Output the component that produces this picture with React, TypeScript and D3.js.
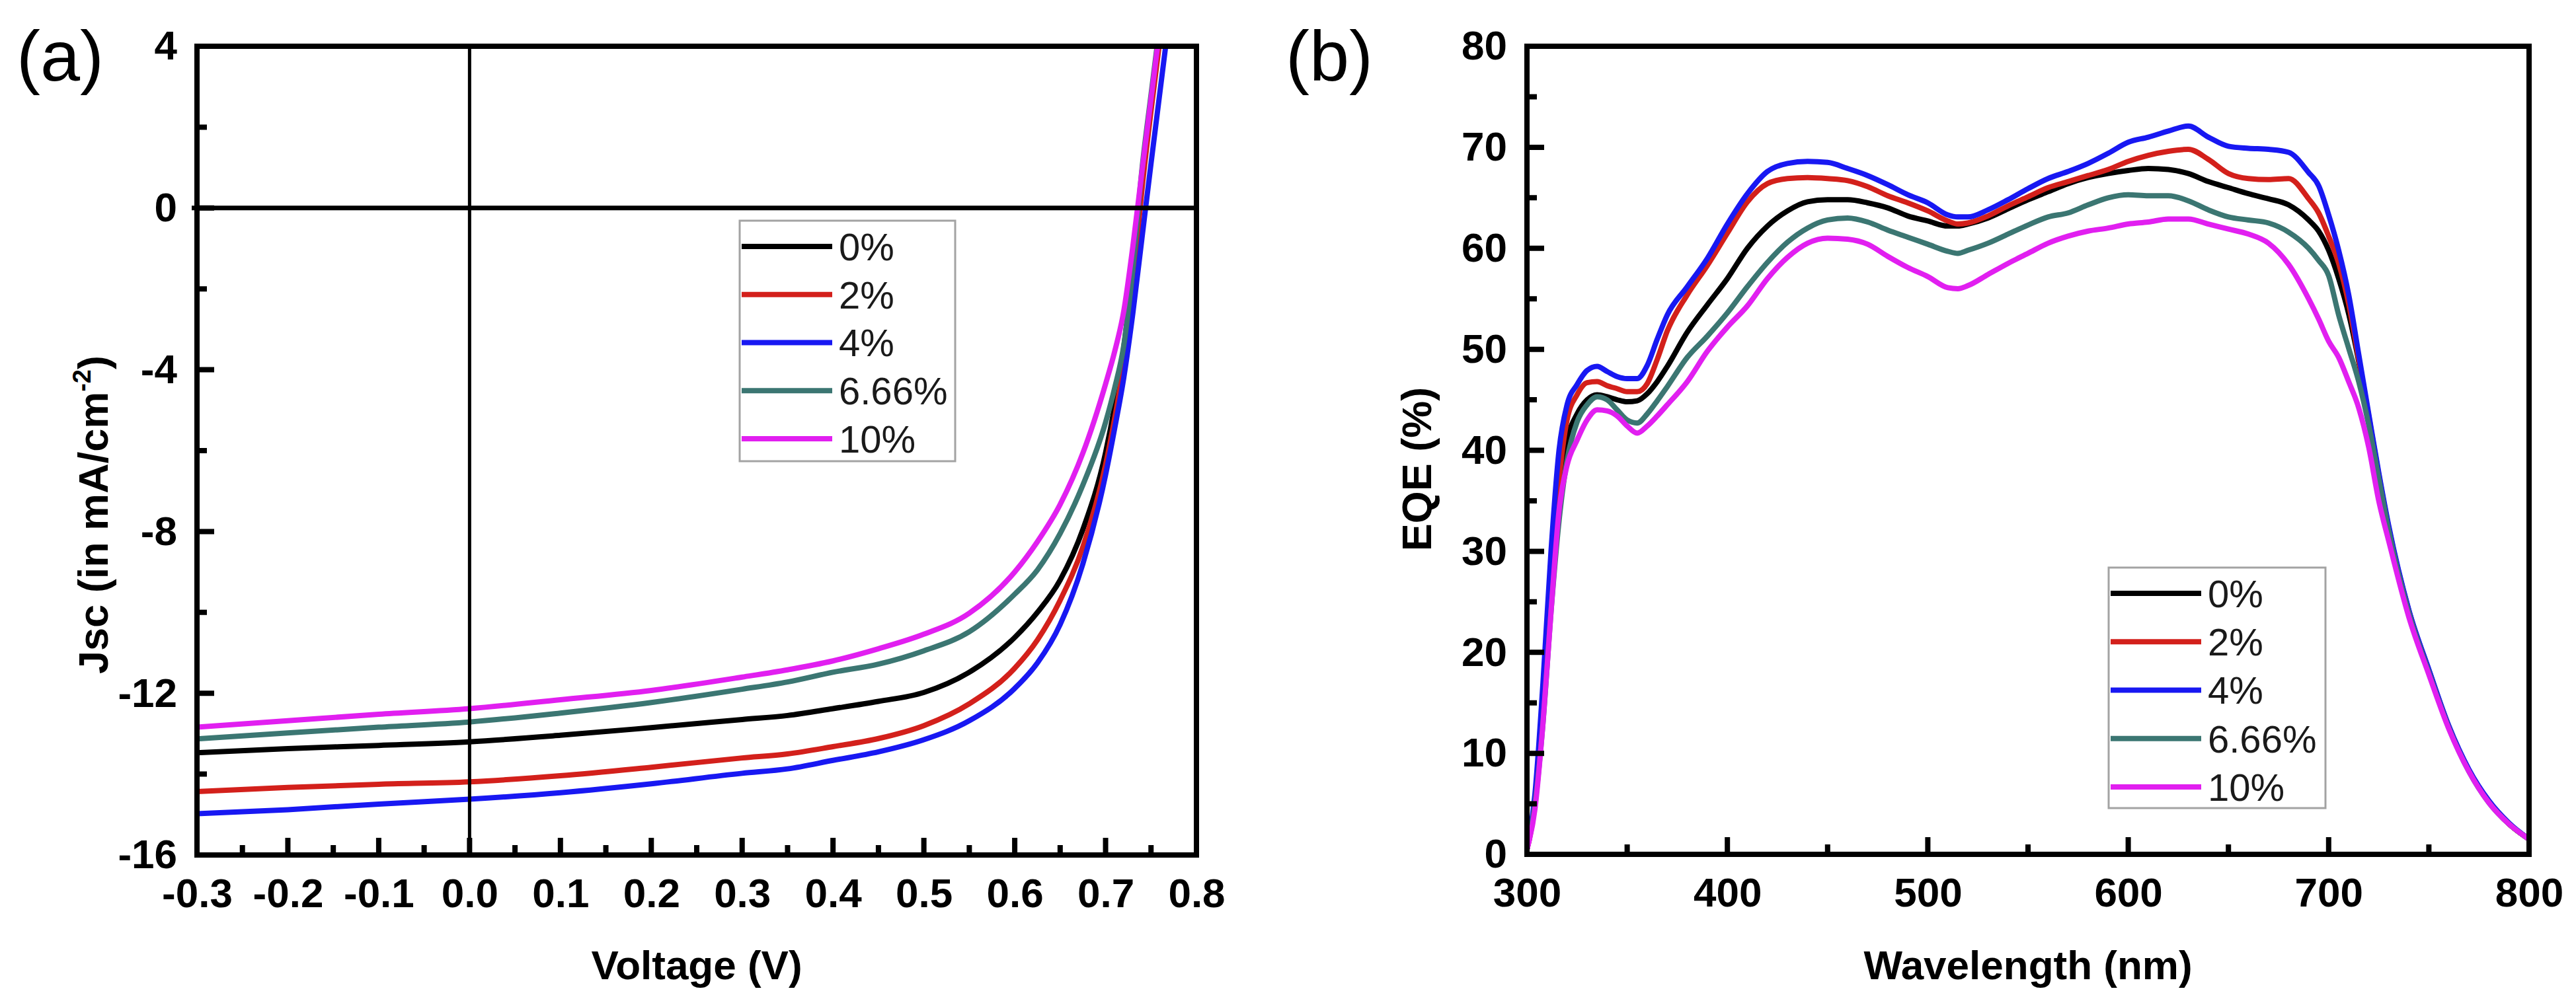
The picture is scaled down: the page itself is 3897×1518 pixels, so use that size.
import React, { useEffect, useRef } from 'react';
import * as d3 from 'd3';

// legend / series
const seriesLabels = ['0%', '2%', '4%', '6.66%', '10%'];
const seriesColors = ['#000000', '#d3201b', '#1818f2', '#3b7672', '#e11ff0'];

// (a) J-V curves
const voltage = [-0.3, -0.2, -0.1, 0, 0.1, 0.2, 0.3, 0.35, 0.4, 0.45, 0.5, 0.55, 0.6, 0.625, 0.65, 0.675, 0.7, 0.71, 0.72, 0.73, 0.74, 0.75, 0.76, 0.77, 0.78];
const jsc0 = [-13.47, -13.37, -13.29, -13.2, -13.04, -12.85, -12.65, -12.55, -12.38, -12.2, -11.98, -11.48, -10.62, -10.0, -9.2, -7.95, -6.05, -4.9, -3.45, -1.55, 0.7, 2.55, 4.35, 6.2, 8.0];
const jsc2 = [-14.43, -14.33, -14.25, -14.19, -14.04, -13.83, -13.6, -13.5, -13.32, -13.12, -12.8, -12.26, -11.38, -10.68, -9.7, -8.38, -6.35, -5.2, -3.85, -1.95, 0.45, 2.4, 4.2, 6.0, 7.8];
const jsc4 = [-14.98, -14.88, -14.74, -14.62, -14.46, -14.24, -13.98, -13.87, -13.66, -13.45, -13.15, -12.68, -11.88, -11.25, -10.3, -8.8, -6.6, -5.45, -4.2, -2.6, -0.75, 1.1, 2.9, 4.7, 6.5];
const jsc666 = [-13.13, -12.98, -12.84, -12.71, -12.49, -12.23, -11.9, -11.72, -11.48, -11.28, -10.95, -10.48, -9.55, -8.95, -8.05, -6.85, -5.3, -4.45, -3.4, -1.5, 0.95, 2.8, 4.6, 6.4, 8.2];
const jsc10 = [-12.84, -12.68, -12.52, -12.38, -12.16, -11.93, -11.6, -11.42, -11.2, -10.9, -10.54, -10.02, -9.0, -8.25, -7.33, -6.06, -4.35, -3.55, -2.55, -0.95, 0.9, 2.7, 4.5, 6.3, 8.1];
const jvSeries = [jsc0, jsc2, jsc4, jsc666, jsc10];

const voltageTicks = [-0.3, -0.2, -0.1, 0, 0.1, 0.2, 0.3, 0.4, 0.5, 0.6, 0.7, 0.8];
const voltageTickLabels = ['-0.3', '-0.2', '-0.1', '0.0', '0.1', '0.2', '0.3', '0.4', '0.5', '0.6', '0.7', '0.8'];
const jscTicks = [4, 0, -4, -8, -12, -16];
const jscTickLabels = ['4', '0', '-4', '-8', '-12', '-16'];

// (b) EQE spectra
const wavelength = [300, 304, 308, 312, 316, 320, 325, 330, 335, 340, 345, 350, 355, 360, 365, 370, 380, 390, 400, 410, 420, 430, 440, 450, 460, 470, 480, 490, 500, 510, 515, 520, 530, 540, 550, 560, 570, 580, 590, 600, 610, 620, 630, 640, 650, 660, 670, 680, 690, 695, 700, 705, 710, 715, 720, 725, 730, 740, 750, 760, 770, 780, 790, 800];
const eqe0 = [0.5, 5, 14, 26, 36, 41.0, 43.6, 45.0, 45.5, 45.3, 45.0, 44.8, 44.9, 45.6, 46.8, 48.3, 51.7, 54.4, 57.0, 60.0, 62.2, 63.7, 64.6, 64.8, 64.8, 64.5, 64.0, 63.2, 62.7, 62.2, 62.2, 62.4, 63.0, 63.9, 64.8, 65.6, 66.4, 67.0, 67.4, 67.7, 67.9, 67.8, 67.4, 66.6, 66.0, 65.4, 64.9, 64.3, 62.8, 61.7, 59.8, 57.0, 53.5, 48.8, 43.3, 37.5, 32.3, 24.1, 18.2, 12.6, 8.3, 5.2, 3.0, 1.5];
const eqe2 = [0.5, 5, 15, 27, 37, 43.0, 45.5, 46.7, 46.8, 46.4, 46.1, 45.8, 45.8, 46.6, 49.0, 51.8, 55.4, 58.3, 61.5, 64.6, 66.4, 66.9, 67.0, 66.9, 66.7, 66.1, 65.2, 64.5, 63.7, 62.7, 62.4, 62.5, 63.2, 64.2, 65.1, 66.0, 66.6, 67.2, 67.8, 68.6, 69.2, 69.6, 69.8, 68.8, 67.4, 66.9, 66.8, 66.9, 64.9, 63.5, 61.2, 58.5, 54.5, 49.0, 43.4, 37.6, 32.3, 24.1, 18.2, 12.6, 8.3, 5.2, 3.0, 1.5];
const eqe4 = [0.5, 6, 17, 30, 40, 44.5, 46.5, 47.9, 48.3, 47.8, 47.3, 47.1, 47.1, 48.4, 51.0, 53.4, 56.2, 59.0, 62.4, 65.4, 67.6, 68.4, 68.6, 68.5, 67.9, 67.2, 66.3, 65.3, 64.5, 63.3, 63.1, 63.1, 63.8, 64.8, 65.9, 66.9, 67.6, 68.4, 69.4, 70.5, 71.0, 71.6, 72.1, 71.0, 70.1, 69.9, 69.8, 69.5, 67.5, 66.2, 63.3, 59.8, 55.4, 49.5, 43.6, 37.8, 32.5, 24.2, 18.3, 12.7, 8.4, 5.3, 3.1, 1.5];
const eqe666 = [0.5, 5, 13, 24, 33, 39.0, 42.8, 44.5, 45.3, 45.0, 44.0, 43.0, 42.7, 43.6, 44.9, 46.3, 49.2, 51.3, 53.6, 56.2, 58.6, 60.6, 62.0, 62.8, 63.0, 62.6, 61.8, 61.1, 60.4, 59.7, 59.5, 59.8, 60.5, 61.4, 62.3, 63.1, 63.5, 64.3, 65.0, 65.3, 65.2, 65.2, 64.7, 63.8, 63.1, 62.8, 62.5, 61.6, 60.0, 58.8, 57.3, 53.4, 50.1, 46.8, 42.5, 37.2, 32.0, 23.9, 18.0, 12.5, 8.2, 5.1, 3.0, 1.5];
const eqe10 = [0.5, 4.5, 13, 24, 34, 38.5, 41.0, 43.0, 44.0, 43.9, 43.4, 42.4, 41.7, 42.4, 43.4, 44.5, 46.8, 49.8, 52.2, 54.3, 57.0, 59.1, 60.5, 61.0, 60.9, 60.4, 59.2, 58.1, 57.2, 56.1, 56.0, 56.3, 57.4, 58.5, 59.5, 60.5, 61.2, 61.7, 62.0, 62.4, 62.6, 62.9, 62.9, 62.4, 61.9, 61.4, 60.5, 58.4, 55.0, 53.0, 50.8, 49.2, 46.8, 44.2, 40.3, 35.0, 31.0, 23.5, 17.8, 12.4, 8.2, 5.1, 3.0, 1.5];
const eqeSeries = [eqe0, eqe2, eqe4, eqe666, eqe10];

const wavelengthTicks = [300, 400, 500, 600, 700, 800];
const eqeTicks = [0, 10, 20, 30, 40, 50, 60, 70, 80];

const FONT = "'Liberation Sans', Arial, Helvetica, sans-serif";

export default function App() {
  const chartRef = useRef<SVGSVGElement>(null);

  useEffect(() => {
    if (!chartRef.current) return;
    const svg = d3.select(chartRef.current);
    svg.selectAll('*').remove();

    svg.append('rect').attr('width', 3897).attr('height', 1518).attr('fill', '#ffffff');
    const defs = svg.append('defs');

    const midpoints = (arr: number[]) => d3.pairs(arr).map(([a, b]) => (a + b) / 2);

    const drawPanel = (opts: any) => {
      const { id, x, y, xs, series, xTicks, xFormat, yTicks, yFormat } = opts;
      const [left, right] = x.range();
      const [bottom, top] = y.range();

      defs.append('clipPath').attr('id', id)
        .append('rect')
        .attr('x', left).attr('y', top)
        .attr('width', right - left).attr('height', bottom - top);

      // tick labels through d3 axes
      const gx = svg.append('g')
        .attr('transform', `translate(0,${bottom})`)
        .call(d3.axisBottom(x).tickValues(xTicks).tickSize(0).tickPadding(35).tickFormat(xFormat));
      const gy = svg.append('g')
        .attr('transform', `translate(${left},0)`)
        .call(d3.axisLeft(y).tickValues(yTicks).tickSize(0).tickPadding(30).tickFormat(yFormat));
      [gx, gy].forEach((g) => {
        g.select('.domain').remove();
        g.selectAll('.tick line').remove();
        g.selectAll('text')
          .attr('font-size', 62)
          .attr('font-weight', 'bold')
          .attr('font-family', FONT)
          .attr('fill', '#000');
      });

      const line = d3.line<number>()
        .x((_, i) => x(xs[i]))
        .y((d) => y(d))
        .curve(d3.curveMonotoneX);

      const curves = svg.append('g').attr('clip-path', `url(#${id})`);

      // inward tick marks (major + minor) as one path each
      const tickPath = (len: number, xv: number[], yv: number[]) => {
        const p = d3.path();
        xv.forEach((v) => { p.moveTo(x(v), bottom); p.lineTo(x(v), bottom - len); });
        yv.forEach((v) => { p.moveTo(left, y(v)); p.lineTo(left + len, y(v)); });
        return p.toString();
      };
      const drawTicks = () => {
        svg.append('path')
          .attr('d', tickPath(26, xTicks, yTicks))
          .attr('fill', 'none').attr('stroke', '#000').attr('stroke-width', 8);
        svg.append('path')
          .attr('d', tickPath(15, midpoints(xTicks), midpoints(yTicks)))
          .attr('fill', 'none').attr('stroke', '#000').attr('stroke-width', 8);
      };
      return { curves, line, left, right, top, bottom, series, drawTicks };
    };

    const drawCurves = (p: any) => {
      p.series.forEach((s: number[], i: number) => {
        p.curves.append('path')
          .datum(s)
          .attr('d', p.line)
          .attr('fill', 'none')
          .attr('stroke', seriesColors[i])
          .attr('stroke-width', 8)
          .attr('stroke-linejoin', 'round');
      });
    };

    const drawFrame = (p: any) => {
      svg.append('rect')
        .attr('x', p.left).attr('y', p.top)
        .attr('width', p.right - p.left).attr('height', p.bottom - p.top)
        .attr('fill', 'none')
        .attr('stroke', '#000')
        .attr('stroke-width', 8);
      p.drawTicks();
    };

    const drawLegend = (bx: number, by: number, bw: number, bh: number, rowGap: number) => {
      const g = svg.append('g');
      g.append('rect')
        .attr('x', bx).attr('y', by).attr('width', bw).attr('height', bh)
        .attr('fill', '#ffffff')
        .attr('stroke', '#a3a3a3')
        .attr('stroke-width', 3);
      seriesLabels.forEach((label, i) => {
        const cy = by + 39 + i * rowGap;
        g.append('line')
          .attr('x1', bx + 3).attr('x2', bx + 140)
          .attr('y1', cy).attr('y2', cy)
          .attr('stroke', seriesColors[i])
          .attr('stroke-width', 8);
        g.append('text')
          .attr('x', bx + 150).attr('y', cy)
          .attr('dy', '0.36em')
          .attr('font-size', 58)
          .attr('font-family', FONT)
          .attr('fill', '#1a1a1a')
          .text(label);
      });
    };

    // ---------- Panel (a) ----------
    const xA = d3.scaleLinear().domain([-0.3, 0.8]).range([298, 1810]);
    const yA = d3.scaleLinear().domain([-16, 4]).range([1294, 70]);
    const pA = drawPanel({
      id: 'clipA', x: xA, y: yA, xs: voltage, series: jvSeries,
      xTicks: voltageTicks,
      xFormat: (_: any, i: number) => voltageTickLabels[i],
      yTicks: jscTicks,
      yFormat: (_: any, i: number) => jscTickLabels[i],
    });

    // zero reference lines
    svg.append('line')
      .attr('x1', xA(-0.3) - 8).attr('x2', xA(0.8))
      .attr('y1', yA(0)).attr('y2', yA(0))
      .attr('stroke', '#000').attr('stroke-width', 7);
    svg.append('line')
      .attr('x1', xA(0)).attr('x2', xA(0))
      .attr('y1', yA(4)).attr('y2', yA(-16))
      .attr('stroke', '#000').attr('stroke-width', 5);

    drawCurves(pA);
    drawFrame(pA);
    drawLegend(1119, 334, 326, 364, 72.75);

    svg.append('text')
      .attr('x', (pA.left + pA.right) / 2).attr('y', 1482)
      .attr('text-anchor', 'middle')
      .attr('font-size', 62).attr('font-weight', 'bold').attr('font-family', FONT)
      .text('Voltage (V)');

    const ya = svg.append('text')
      .attr('transform', 'translate(163,779) rotate(-90)')
      .attr('text-anchor', 'middle')
      .attr('font-size', 63).attr('font-weight', 'bold').attr('font-family', FONT);
    ya.append('tspan').text('Jsc (in mA/cm');
    ya.append('tspan').attr('font-size', 38).attr('dy', -26).text('-2');
    ya.append('tspan').attr('dy', 26).text(')');

    svg.append('text')
      .attr('x', 25).attr('y', 122)
      .attr('font-size', 108).attr('font-family', FONT)
      .text('(a)');

    // ---------- Panel (b) ----------
    const xB = d3.scaleLinear().domain([300, 800]).range([2310, 3826]);
    const yB = d3.scaleLinear().domain([0, 80]).range([1293, 70]);
    const pB = drawPanel({
      id: 'clipB', x: xB, y: yB, xs: wavelength, series: eqeSeries,
      xTicks: wavelengthTicks,
      xFormat: (d: number) => String(d),
      yTicks: eqeTicks,
      yFormat: (d: number) => String(d),
    });
    drawCurves(pB);
    drawFrame(pB);
    drawLegend(3190, 859, 328, 364, 73.25);

    svg.append('text')
      .attr('x', (pB.left + pB.right) / 2).attr('y', 1482)
      .attr('text-anchor', 'middle')
      .attr('font-size', 62).attr('font-weight', 'bold').attr('font-family', FONT)
      .text('Wavelength (nm)');

    svg.append('text')
      .attr('transform', 'translate(2165,710) rotate(-90)')
      .attr('text-anchor', 'middle')
      .attr('font-size', 63).attr('font-weight', 'bold').attr('font-family', FONT)
      .text('EQE (%)');

    svg.append('text')
      .attr('x', 1945).attr('y', 122)
      .attr('font-size', 108).attr('font-family', FONT)
      .text('(b)');
  }, []);

  return (
    <div style={{ position: 'absolute', left: 0, top: 0, width: 3897, height: 1518, background: '#fff' }}>
      <svg ref={chartRef} width={3897} height={1518} style={{ display: 'block' }}></svg>
    </div>
  );
}
